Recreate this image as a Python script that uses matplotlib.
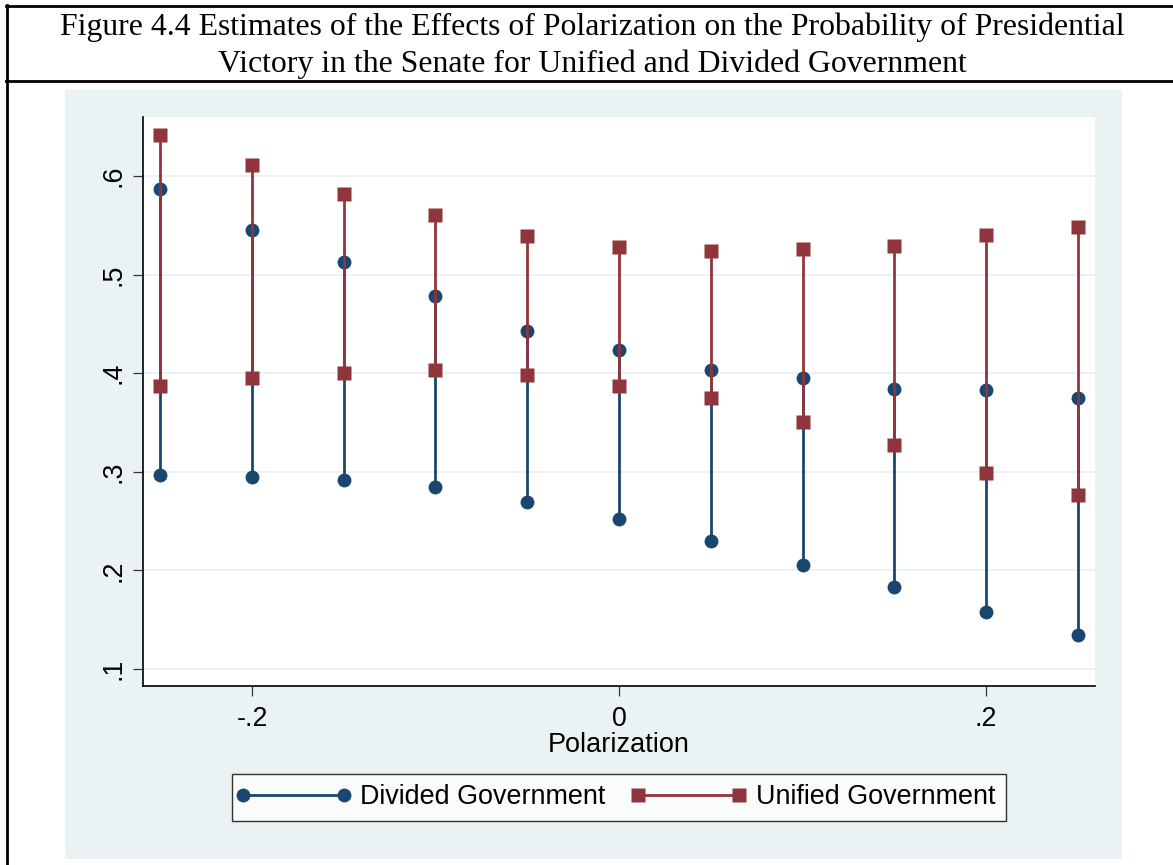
import matplotlib
matplotlib.use("Agg")
import matplotlib.pyplot as plt
from matplotlib.lines import Line2D
from matplotlib.patches import Rectangle
from matplotlib.legend_handler import HandlerLine2D

# ---- data ----
polarization = [-0.25, -0.20, -0.15, -0.10, -0.05, 0.00, 0.05, 0.10, 0.15, 0.20, 0.25]
divided_upper = [0.587, 0.545, 0.513, 0.478, 0.443, 0.424, 0.403, 0.395, 0.384, 0.383, 0.375]
divided_lower = [0.297, 0.295, 0.292, 0.285, 0.269, 0.252, 0.230, 0.206, 0.183, 0.158, 0.135]
unified_upper = [0.642, 0.611, 0.582, 0.560, 0.539, 0.528, 0.524, 0.526, 0.529, 0.540, 0.548]
unified_lower = [0.387, 0.395, 0.400, 0.403, 0.398, 0.387, 0.375, 0.351, 0.327, 0.299, 0.277]
x_ticks = [-0.2, 0.0, 0.2]
x_tick_labels = ["-.2", "0", ".2"]
y_ticks = [0.1, 0.2, 0.3, 0.4, 0.5, 0.6]
y_tick_labels = [".1", ".2", ".3", ".4", ".5", ".6"]
title_lines = ["Figure 4.4 Estimates of the Effects of Polarization on the Probability of Presidential",
               "Victory in the Senate for Unified and Divided Government"]
x_label = "Polarization"
legend_labels = ["Divided Government", "Unified Government"]

W, H = 1173, 865
BLUE = "#1a476f"
RED = "#90353b"
PANEL = "#eaf2f3"

fig = plt.figure(figsize=(W / 100, H / 100), dpi=100)
fig.patch.set_facecolor("white")

def fx(px):
    return px / W

def fy(py):
    return 1 - py / H

# background panel
fig.add_artist(Rectangle((fx(65), fy(859)), fx(1122) - fx(65), fy(90) - fy(859),
                         transform=fig.transFigure, facecolor=PANEL, edgecolor="none", zorder=0))

# title box lines
fig.add_artist(Line2D([fx(6), 1.0], [fy(6), fy(6)], transform=fig.transFigure, color="black", lw=2.0))
fig.add_artist(Line2D([fx(6), 1.0], [fy(81), fy(81)], transform=fig.transFigure, color="black", lw=2.0))
fig.add_artist(Line2D([fx(7), fx(7)], [fy(5), 0.0], transform=fig.transFigure, color="black", lw=2.0))

for i, t in enumerate(title_lines):
    fig.text(fx(592), fy(35 + 37 * i), t, ha="center", va="baseline",
             family="Liberation Serif", fontsize=22.9, color="black")

ax = fig.add_axes([fx(143), fy(686), fx(1095) - fx(143), fy(117) - fy(686)])
ax.set_facecolor("white")
ax.set_xlim(-0.2594, 0.2594)
ax.set_ylim(0.0828, 0.6599)

for v in y_ticks:
    ax.axhline(v, color=PANEL, lw=1.4, zorder=0.5)

# divided government
ax.vlines(polarization, divided_lower, divided_upper, color=BLUE, lw=2.0, zorder=2)
ax.plot(polarization, divided_upper, "o", color=BLUE, ms=10, mec="none", zorder=3)
ax.plot(polarization, divided_lower, "o", color=BLUE, ms=10, mec="none", zorder=3)
# unified government
ax.vlines(polarization, unified_lower, unified_upper, color=RED, lw=2.0, zorder=4)
ax.plot(polarization, unified_upper, "s", color=RED, ms=9.8, mec="none", zorder=5)
ax.plot(polarization, unified_lower, "s", color=RED, ms=9.8, mec="none", zorder=5)

for s in ["top", "right"]:
    ax.spines[s].set_visible(False)
for s in ["left", "bottom"]:
    ax.spines[s].set_linewidth(1.2)
    ax.spines[s].set_color("black")

ax.set_xticks(x_ticks)
ax.set_xticklabels(x_tick_labels, family="Liberation Sans", fontsize=19.3)
ax.set_yticks(y_ticks)
ax.set_yticklabels(y_tick_labels, family="Liberation Sans", fontsize=19.3, rotation=90, va="center")
ax.tick_params(axis="both", length=7, width=0.9, color="#333333")
ax.tick_params(axis="x", pad=7.5)
ax.tick_params(axis="y", pad=5)
ax.set_xlabel(x_label, family="Liberation Sans", fontsize=19.5, labelpad=0)

h1 = Line2D([], [], color=BLUE, lw=2.0, marker="o", ms=10, mec="none")
h2 = Line2D([], [], color=RED, lw=2.0, marker="s", ms=9.8, mec="none")
leg = fig.legend([h1, h2], legend_labels, loc="center",
                 bbox_to_anchor=(fx(619), fy(797.5)), bbox_transform=fig.transFigure,
                 ncol=2, numpoints=2, handlelength=3.75, handletextpad=0.62,
                 columnspacing=1.2, borderpad=0.4, fancybox=False, frameon=True,
                 prop={"family": "Liberation Sans", "size": 19.4},
                 handler_map={Line2D: HandlerLine2D(marker_pad=0, numpoints=2)})
leg.get_frame().set_edgecolor("black")
leg.get_frame().set_linewidth(1.0)
leg.get_frame().set_facecolor("white")

fig.savefig("out.png", dpi=100, facecolor="white")
